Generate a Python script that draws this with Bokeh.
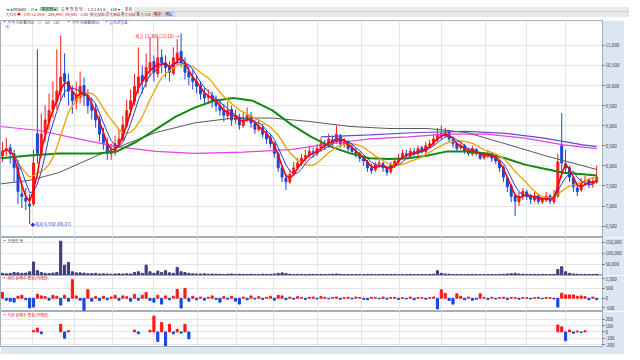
import pandas as pd
from bokeh.plotting import figure
from bokeh.models import Range1d, FixedTicker, Label, LabelSet, Div, ColumnDataSource, Grid, NumeralTickFormatter
from bokeh.layouts import column
from bokeh.embed import file_html
from bokeh.resources import INLINE

FONT = "Noto Sans CJK KR"

# ---------------- data (one candle = two trading days) ----------------
open_ = [8250,8380,8450,8300,7950,7300,7200,7050,7050,8800,
         8300,8800,9100,9400,9600,9850,10300,10100,9850,9600,
         9700,10000,9750,9550,9400,9150,8800,8550,8300,8350,
         8550,8650,9000,9400,9600,9950,10250,10100,10400,10600,
         10300,10700,10550,10450,10300,10650,10850,10550,10350,10200,
         10100,10000,9800,9700,9750,9600,9500,9400,9250,9400,
         9150,9200,9000,9150,9250,9050,8900,8950,8800,8700,
         8550,8300,7950,7700,7600,7800,7950,8050,8200,8250,
         8350,8300,8450,8550,8500,8650,8600,8750,8550,8600,
         8450,8350,8300,8200,8100,7950,7900,8050,8050,7950,
         7850,8000,8100,8200,8300,8250,8350,8300,8450,8350,
         8500,8550,8650,8800,8750,8850,8650,8550,8450,8500,
         8350,8300,8400,8300,8200,8250,8300,8200,8100,7950,
         7700,7500,7250,7100,7250,7350,7250,7150,7250,7100,
         7150,7250,7100,7250,8500,8050,7950,7700,7450,7400,
         7600,7650,7550,7600]
close = [8360,8430,8310,7950,7360,7240,7120,7000,8070,8310,
         8790,9140,9380,9620,9860,10210,10100,9860,9620,9740,
         9980,9740,9500,9380,9140,8790,8550,8310,8360,8550,
         8670,9020,9380,9620,9980,10210,10100,10450,10570,10330,
         10690,10570,10450,10330,10690,10810,10570,10330,10210,10100,
         9980,9790,9690,9740,9620,9500,9380,9260,9380,9140,
         9220,9020,9140,9260,9070,8910,8980,8790,8670,8550,
         8310,7950,7720,7600,7790,7950,8070,8190,8260,8360,
         8310,8430,8550,8500,8670,8600,8790,8550,8600,8430,
         8360,8310,8190,8120,7950,7880,8030,8070,7950,7840,
         8030,8120,8190,8310,8260,8360,8310,8430,8360,8500,
         8550,8670,8790,8740,8830,8670,8550,8430,8500,8360,
         8310,8430,8310,8190,8260,8310,8190,8120,7950,7720,
         7480,7240,7120,7240,7360,7240,7170,7240,7120,7170,
         7240,7120,7240,8100,8070,7950,7720,7480,7360,7600,
         7640,7550,7600,7720]
high = [8600,8700,8550,8400,8150,7600,7450,7300,8400,10900,
        9300,9500,9800,10100,10900,11250,10800,10300,10000,10100,
        10350,10200,9900,9700,9550,9250,8950,8700,8550,8750,
        8900,9250,9650,9900,10300,10950,10500,10800,11200,10750,
        11200,10900,10750,10600,10950,11150,11300,10700,10500,10400,
        10250,10100,9950,9900,9850,9750,9650,9550,9600,9500,
        9400,9300,9350,9450,9350,9150,9150,9050,8900,8800,
        8600,8350,8000,7800,7900,8100,8200,8300,8400,8500,
        8450,8550,8700,8650,8800,8750,9000,8800,8700,8650,
        8550,8450,8350,8250,8150,8050,8100,8150,8100,8000,
        8100,8200,8300,8400,8400,8450,8450,8500,8500,8600,
        8650,8800,8950,9000,8950,8900,8700,8600,8600,8550,
        8450,8500,8450,8350,8350,8400,8350,8250,8150,8000,
        7750,7550,7300,7350,7450,7400,7300,7350,7300,7250,
        7350,7300,7400,8300,9310,8400,8000,7750,7550,7700,
        7750,7700,7700,8000]
low = [8100,8250,8050,7600,7050,6950,6900,6550,7000,8050,
       8200,8600,8900,9200,9400,9600,9700,9500,9300,9400,
       9550,9500,9300,9150,8950,8600,8400,8150,8150,8250,
       8450,8600,8950,9250,9500,9800,9800,9950,10200,10100,
       10200,10300,10200,10100,10250,10500,10450,10150,10000,9900,
       9800,9650,9550,9550,9450,9350,9250,9100,9150,9000,
       9050,8900,8950,9100,8950,8800,8850,8700,8550,8450,
       8200,7850,7600,7400,7550,7750,7900,8000,8100,8200,
       8200,8250,8350,8400,8450,8500,8550,8450,8450,8350,
       8300,8200,8100,8000,7850,7800,7850,7950,7850,7750,
       7800,7950,8050,8150,8200,8200,8250,8250,8300,8300,
       8450,8500,8600,8650,8700,8600,8450,8350,8400,8300,
       8250,8250,8250,8150,8150,8200,8100,8050,7850,7600,
       7350,7100,6750,7000,7150,7150,7050,7100,7050,7050,
       7100,7050,7050,7200,7700,7800,7600,7350,7250,7350,
       7500,7450,7450,7550]
volume = [8000,6000,7000,12000,10000,8000,9000,15000,60000,20000,
          12000,8000,7000,9000,12000,155000,45000,58000,15000,10000,
          10000,9000,6000,7000,8000,5000,6000,5000,4000,5000,
          6000,5000,6000,5000,12000,15000,8000,45000,15000,8000,
          18000,12000,20000,10000,8000,35000,15000,12000,8000,6000,
          5000,5000,6000,4000,5000,4000,4000,3000,4000,5000,
          3000,4000,3000,3000,4000,3000,3000,4000,3000,3000,
          5000,8000,10000,7000,4000,3000,3000,3000,2000,3000,
          3000,2000,3000,2000,3000,4000,5000,3000,2000,3000,
          2000,2000,3000,2000,3000,3000,2000,2000,3000,2000,
          2000,3000,2000,2000,2000,3000,2000,2000,3000,2000,
          3000,4000,20000,8000,5000,4000,3000,3000,2000,2000,
          2000,3000,2000,2000,2000,3000,2000,2000,3000,4000,
          5000,6000,8000,5000,4000,3000,3000,3000,2000,3000,
          2000,2000,3000,25000,38000,15000,8000,5000,4000,3000,
          3000,2000,3000,4000]
retail = [300,-100,-150,-200,100,150,-80,-500,-450,200,
          120,80,-100,150,100,-350,150,-150,950,120,
          -100,-620,440,-150,80,-120,100,-80,60,150,
          -100,120,80,-150,200,-100,150,300,-120,-200,
          150,-300,120,-80,100,450,-500,500,-150,100,
          -80,60,-100,50,120,-60,-200,80,-50,100,
          -150,-300,60,-80,120,-40,80,-60,50,100,
          -100,150,120,-80,60,-50,80,40,-60,50,
          60,-40,80,50,-30,40,60,-50,30,50,
          -40,60,40,-60,-80,50,40,-30,60,-50,
          40,50,-60,30,-40,60,-80,40,30,-50,
          40,60,-550,430,250,-120,-300,230,100,-80,
          60,-100,-50,230,40,-60,50,-40,30,50,
          -60,40,30,-50,40,30,-40,30,50,-30,
          40,30,-40,-450,260,170,170,170,100,120,
          80,-80,60,-70]
inst = ([0,0,0,0,0,0,0,0,20,60,
         -30,0,0,0,0,120,-100,20,0,0]
        + [0]*10
        + [0,0,0,0,30,-30,0,0,25,250,
           -150,150,-220,120,-30,40,-20,120,-110,0]
        + [0]*90
        + [0,0,0,110,80,-140,30,-20,15,-10,
           20,0,0,0])

ma60_x = [-0.5,7,14.5,24.5,29.5,34.5,39.5,44.5,49.5,54.5,59.5,64.5,69.5,74.5,79.5,
          84.5,89.5,94.5,99.5,104.5,109.5,114.5,119.5,124.5,129.5,134.5,139.5,144.5,149.5,153]
ma60_y = [8190,8260,8310,8310,8360,8600,8910,9220,9450,9620,9690,9620,9380,9020,8720,
          8480,8310,8190,8170,8190,8260,8360,8360,8310,8190,8030,7930,7830,7790,7760]
ma120_x = [-0.5,7,14.5,24.5,32,39.5,49.5,59.5,69.5,79.5,89.5,99.5,109.5,119.5,129.5,139.5,149.5,153]
ma120_y = [7550,7640,7830,8260,8550,8830,9070,9190,9190,9100,8980,8930,8930,8830,8550,8260,8000,7910]
ma240_x = [-0.5,9.5,19.5,29.5,39.5,49.5,62,74.5,84.5,94.5,104.5,114.5,124.5,134.5,144.5,153]
ma240_y = [8980,8880,8670,8480,8360,8310,8340,8410,8550,8670,8720,8790,8790,8690,8520,8430]
ma480_x = [82,94.5,107,119.5,129.5,139.5,149.5,153]
ma480_y = [8720,8770,8830,8860,8810,8690,8520,8480]

month_ticks = [-0.5,7.75,18.5,28.25,39,50.25,60.25,69.75,81,92.5,102.25,113,124.25,135,145]
month_labels = ["2020/08","09","10","11","12","2021/01","02","03","04","05","06","07","08","09","10"]

price_ticks = [6500,7000,7500,8000,8500,9000,9500,10000,10500,11000]
vol_ticks = [50000,100000,150000]
retail_ticks = [-500,0,500,1000]
inst_ticks = [-200,-100,0,100,200]

n = len(close)
assert all(len(a) == n for a in (open_, high, low, volume, retail, inst)), [len(a) for a in (open_, close, high, low, volume, retail, inst)]
idx = list(range(n))

# ---------------- styling ----------------
W = 624
RB = 20
AXBG = "#dce6f2"
GRID = "#e6e6e6"
UP = "#ff1a1a"
DN = "#1748e0"

xr = Range1d(-0.5, 154.5)


def make_panel(height, y0, y1, yticks, bottom=0):
    p = figure(width=W, height=height, x_range=xr, y_range=Range1d(y0, y1),
               output_backend="svg", toolbar_location=None,
               x_axis_location=None, y_axis_location="right",
               min_border_left=0, min_border_top=0, min_border_bottom=bottom,
               min_border_right=RB)
    p.grid.visible = False
    p.border_fill_color = AXBG
    p.background_fill_color = "white"
    p.outline_line_color = "#a4afbd"
    p.add_layout(Grid(dimension=0, ticker=FixedTicker(ticks=month_ticks), grid_line_color=GRID))
    p.add_layout(Grid(dimension=1, ticker=FixedTicker(ticks=yticks), grid_line_color=GRID))
    ya = p.yaxis[0]
    ya.ticker = FixedTicker(ticks=yticks)
    ya.formatter = NumeralTickFormatter(format="0,0")
    ya.major_label_text_font_size = "4.5px"
    ya.major_label_text_font = FONT
    ya.major_label_text_color = "#333333"
    ya.major_tick_out = 2
    ya.major_tick_in = 0
    ya.major_tick_line_color = "#666666"
    ya.minor_tick_line_color = None
    ya.axis_line_color = "#a4afbd"
    ya.major_label_standoff = 1
    return p


def lab(p, x, y, text, color, size="4.5px", align="left", bg=None):
    p.add_layout(Label(x=x, y=y, text=text, text_color=color, text_font=FONT,
                       text_font_size=size, text_align=align, text_baseline="middle",
                       background_fill_color=bg))


def signed_bars(p, values):
    xs = [i for i, v in zip(idx, values) if v != 0]
    vs = [v for v in values if v != 0]
    p.vbar(x=xs, top=vs, bottom=0, width=0.55,
           color=[UP if v > 0 else DN for v in vs])


# ---------------- price panel ----------------
p1 = make_panel(217, 6216, 11619, price_ticks)
colors = [UP if c >= o else DN for o, c in zip(open_, close)]
src = ColumnDataSource(dict(x=idx, o=open_, c=close, h=high, l=low, color=colors,
                            top=[max(o, c) for o, c in zip(open_, close)],
                            bot=[min(o, c) for o, c in zip(open_, close)]))
p1.segment(x0="x", y0="h", x1="x", y1="l", color="color", line_width=1, source=src)
p1.vbar(x="x", top="top", bottom="bot", width=0.5, fill_color="color", line_color="color", source=src)

cs = pd.Series(close, dtype=float)
ma5 = cs.rolling(3, min_periods=1).mean()
ma10 = cs.rolling(5, min_periods=1).mean()
ma20 = cs.rolling(10, min_periods=1).mean()

p1.line(ma240_x, ma240_y, color="#e83ee8", line_width=1.2)
p1.line(ma480_x, ma480_y, color="#5b4fd0", line_width=1.2)
p1.line(ma120_x, ma120_y, color="#5a5a5a", line_width=1)
p1.line(ma60_x, ma60_y, color="#118a11", line_width=2)
p1.line(idx, ma20, color="#f0a000", line_width=1.3)
p1.line(idx, ma10, color="#2a3fd0", line_width=1)
p1.line(idx, ma5, color="#ff0000", line_width=1.6)

# legend row
LY = 11571
lab(p1, 0, LY, "▪ 가격 이동평균", "#333333", "4px")
lab(p1, 5.5, LY, "5", "#ff0000", "4px")
lab(p1, 7, LY, "10", "#2a3fd0", "4px")
lab(p1, 9, LY, "20", "#f0a000", "4px")
lab(p1, 11, LY, "60", "#118a11", "4px")
lab(p1, 13, LY, "120", "#5a5a5a", "4px")
lab(p1, 16.5, LY, "▪ 가격 이동평균", "#333333", "4px")
lab(p1, 21.25, LY, "240", "#e83ee8", "4px")
lab(p1, 23.25, LY, "480", "#5b4fd0", "4px")
lab(p1, 26.25, LY, "▪ 일목균형표", "#2233cc", "4px")
lab(p1, 0.8, 11452, "▣", "#777777", "4px")

# high / low annotations
hi_i = max(idx, key=lambda i: high[i])
lo_i = min(idx, key=lambda i: low[i])
lab(p1, hi_i - 0.4, 11240, "최고 11,300 (12/10) →", "#ff0000", "4.5px", "right")
lab(p1, lo_i + 0.2, low[lo_i], "◆최저 6,550 (08/27)", "#2233cc", "4.5px", "left")

# right-side info
lab(p1, 154.8, 11595, "LC 10.0%", "#e00000", "3.8px")
lab(p1, 154.8, 11515, "RC -10.4%", "#2233cc", "3.8px")
lab(p1, 154.8, close[-1], "7,720", "white", "4.5px", "left", "#e8001c")

# ---------------- volume panel ----------------
p2 = make_panel(38, -2000, 171700, vol_ticks)
p2.vbar(x=idx, top=volume, bottom=0, width=0.55, color="#3d3d82")
lab(p2, 0, 154000, "▪ 거래량 ▣", "#444444", "4px")
lab(p2, 154.8, 24000, "4,131", "white", "4.5px", "left", "#ff00ff")

# ---------------- retail net buying ----------------
p3 = make_panel(36, -680, 1165, retail_ticks)
signed_bars(p3, retail)
lab(p3, 0, 1019, "▪ 개인 순매수 증감(거래량)", "#e00000", "4px")

# ---------------- institution net buying + dates ----------------
p4 = make_panel(43, -231, 323, inst_ticks, bottom=8)
signed_bars(p4, inst)
lab(p4, 0, 261, "▪ 기관 순매수 증감(거래량)", "#e00000", "4px")
dsrc = ColumnDataSource(dict(x=[t + 0.5 for t in month_ticks], y=[-300] * len(month_ticks), t=month_labels))
p4.add_layout(LabelSet(x="x", y="y", text="t", source=dsrc, text_font=FONT,
                       text_font_size="4.5px", text_color="#333333", text_baseline="middle"))
lab(p4, 154.9, -300, "10/22", "#333333", "4.5px")

# ---------------- toolbar ----------------
tb = Div(width=W, height=10, text=(
    "<div style=\"width:624px;height:10px;overflow:hidden;background:#e9e9e9;"
    "font-family:'Noto Sans CJK KR';font-size:4px;white-space:nowrap;color:#222\">"
    "<div style=\"height:5px;line-height:5px;border-bottom:1px solid #d2d2d2\">"
    "<span style=\"background:#fff;padding:0 2px\">▾ ◂ 093640</span> "
    "<span style=\"background:#fff;padding:0 2px\">Q ▾</span> "
    "<span style=\"background:#9fd49f;padding:0 2px\">종목명 ▾</span> "
    "<span style=\"background:#fff;padding:0 2px\">일 주 월 분 틱</span> "
    "<span style=\"background:#fff;padding:0 2px\">1 2 3 4 5 6</span> "
    "<span style=\"background:#fff;padding:0 2px\">120 ▾</span> "
    "<span style=\"background:#fff;padding:0 2px\">조회</span>"
    "</div>"
    "<div style=\"height:4px;line-height:4px;color:#e00000\">"
    "<span style=\"background:#fff;padding:0 1px\">7,720 ▲</span> "
    "<span style=\"background:#fff;padding:0 1px\">170 +2.25%</span> "
    "<span style=\"background:#fff;padding:0 1px\">345,995</span> "
    "<span style=\"background:#fff;padding:0 1px\">59,591</span> "
    "<span style=\"background:#fff;padding:0 1px\">2.8x</span> "
    "<span style=\"color:#222\">시</span> 7,550 <span style=\"color:#222\">고</span> 7,900 "
    "<span style=\"color:#222\">저</span> 7,550 <span style=\"color:#222\">종</span> 7,720 "
    "<span style=\"background:#f4c4c4;padding:0 2px;color:#222\">매수</span>"
    "<span style=\"background:#c4d8f4;padding:0 2px;color:#222\">매도</span>"
    "</div></div>"))

layout = column(tb, p1, p2, p3, p4, spacing=0)
open("out.html", "w").write(file_html(layout, INLINE))
